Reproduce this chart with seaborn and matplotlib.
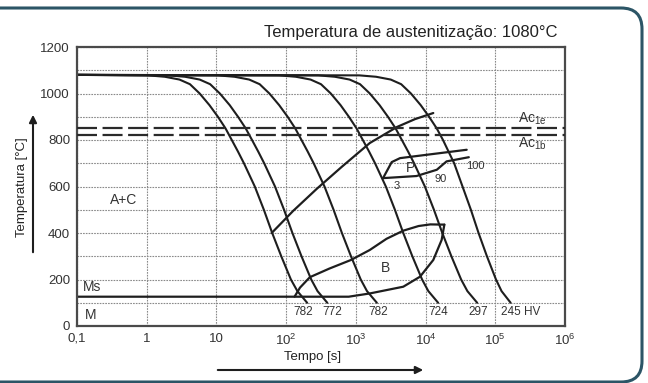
import numpy as np
import pandas as pd
import matplotlib
matplotlib.use("Agg")
import matplotlib.pyplot as plt
import seaborn as sns
from matplotlib.patches import FancyBboxPatch, FancyArrowPatch
from matplotlib.transforms import IdentityTransform
from matplotlib.ticker import FixedLocator, NullLocator, MultipleLocator

# ---------------- data ----------------
cool_temps = [1080, 1078, 1072, 1060, 1040, 1000, 950, 900, 850, 800,
              750, 700, 600, 500, 400, 300, 200, 150, 100]
curve_782a = [0.1, 1.05, 1.82, 2.95, 4.17, 5.75, 7.94, 10.5, 13.5, 16.6,
              20.4, 24.8, 35.5, 47.9, 63.1, 85.1, 117, 145, 200]
curve_772 = [0.1, 2.04, 3.55, 5.75, 8.13, 11.2, 15.5, 20.4, 26.3, 32.4,
             39.8, 48.4, 69.2, 93.3, 123, 166, 229, 282, 389]
curve_782b = [0.1, 10.5, 18.2, 29.5, 41.7, 57.5, 79.4, 105, 135, 166,
              204, 248, 355, 479, 631, 851, 1175, 1445, 2000]
curve_724 = [0.1, 79.4, 138, 224, 316, 437, 603, 794, 1023, 1259,
             1549, 1884, 2692, 3631, 4786, 6457, 8913, 10965, 15136]
curve_297 = [0.1, 288, 501, 813, 1148, 1585, 2188, 2884, 3715, 4571,
             5623, 6839, 9772, 13183, 17378, 23442, 32359, 39811, 54954]
curve_245 = [0.1, 1122, 1950, 3162, 4467, 6166, 8511, 11220, 14454, 17783,
             21380, 25704, 33884, 44668, 57544, 75858, 102329, 123027, 165959]
hardness_labels = ["782", "772", "782", "724", "297", "245 HV"]

# transformation start line (ferrite/pearlite + bainite start)
start_t = [62, 126, 275, 630, 1585, 3890, 7080, 12900]
start_T = [400, 495, 590, 685, 787, 856, 890, 916]

# pearlite region lines (3 % and 90/100 %)
p_upper_t = [2455, 3270, 4300, 38900]
p_upper_T = [636, 705, 722, 758]
p_lower_t = [2455, 7400, 14500, 20000, 41700]
p_lower_T = [636, 645, 672, 708, 726]

# bainite region (upper = start, lower = end) and Ms line
b_upper_t = [132, 158, 219, 417, 851, 1585, 2750, 4790, 7940, 11700, 18600]
b_upper_T = [126, 165, 210, 247, 284, 327, 375, 410, 430, 437, 436]
b_lower_t = [18600, 17000, 12900, 8320, 4790, 1585, 790, 0.1]
b_lower_T = [436, 370, 284, 212, 169, 140, 126, 126]

ac1e, ac1b = 850, 820

# ---------------- styling ----------------
sns.set_theme(style="white")
plt.rcParams['font.family'] = ['Liberation Sans', 'DejaVu Sans']
plt.rcParams['mathtext.fontset'] = 'custom'
plt.rcParams['mathtext.rm'] = 'Liberation Sans'
plt.rcParams['mathtext.it'] = 'Liberation Sans'

W, H = 648, 383
fig = plt.figure(figsize=(W / 100, H / 100), dpi=100)
fig.patch.set_facecolor('white')
ax = fig.add_axes([77 / W, 1 - 326 / H, (565 - 77) / W, (326 - 47) / H])

ink = '#1e1e1e'

curves = [curve_782a, curve_772, curve_782b, curve_724, curve_297, curve_245]
rows = []
for i, ts in enumerate(curves):
    for t, T in zip(ts, cool_temps):
        rows.append({'curve': i, 't': t, 'T': T})
df = pd.DataFrame(rows)
sns.lineplot(data=df, x='t', y='T', units='curve', estimator=None, sort=False,
             color=ink, lw=1.5, ax=ax, legend=False)

line_df = lambda ts, Ts: pd.DataFrame({'t': ts, 'T': Ts})
for ts, Ts in [(start_t, start_T), (p_upper_t, p_upper_T), (p_lower_t, p_lower_T),
               (b_upper_t, b_upper_T), (b_lower_t, b_lower_T)]:
    sns.lineplot(data=line_df(ts, Ts), x='t', y='T', estimator=None, sort=False,
                 color=ink, lw=1.6, ax=ax)

ax.axhline(ac1e, color='#2a2a2a', lw=1.6, ls=(0, (9, 2.5)), zorder=3)
ax.axhline(ac1b, color='#2a2a2a', lw=1.6, ls=(0, (9, 2.5)), zorder=3)

ax.set_xscale('log')
ax.set_xlim(0.1, 1e6)
ax.set_ylim(0, 1200)
ax.xaxis.set_major_locator(FixedLocator([0.1, 1, 10, 100, 1e3, 1e4, 1e5, 1e6]))
ax.xaxis.set_minor_locator(NullLocator())
ax.set_xticklabels(['0,1', '1', '10', r'10$^{2}$', r'10$^{3}$', r'10$^{4}$',
                    r'10$^{5}$', r'10$^{6}$'])
ax.yaxis.set_major_locator(MultipleLocator(200))
ax.yaxis.set_minor_locator(MultipleLocator(100))
ax.grid(which='both', color='#8a8a8a', lw=0.8, ls=(0, (1.5, 1)))
ax.tick_params(which='both', length=0, labelsize=9.5, colors='#333333', pad=5)
ax.set_xlabel('')
ax.set_ylabel('')
for s in ax.spines.values():
    s.set_color('#4a4a4a')
    s.set_linewidth(1.6)

# hardness labels
lab_x = [174, 457, 2090, 15100, 56200, 229000]
for x, s in zip(lab_x, hardness_labels):
    ax.text(x, 60, s, ha='center', va='center', fontsize=8.5, color='#333333')

ax.text(0.46, 542, 'A+C', ha='center', va='center', fontsize=10, color='#333333')
ax.text(0.164, 168, 'Ms', ha='center', va='center', fontsize=10, color='#333333')
ax.text(0.159, 47, 'M', ha='center', va='center', fontsize=10, color='#333333')
ax.text(2630, 249, 'B', ha='center', va='center', fontsize=10, color='#333333')
ax.text(6030, 678, 'P', ha='center', va='center', fontsize=10, color='#333333')
ax.text(3800, 602, '3', ha='center', va='center', fontsize=8, color='#333333')
ax.text(16600, 632, '90', ha='center', va='center', fontsize=8, color='#333333')
ax.text(52500, 688, '100', ha='center', va='center', fontsize=8, color='#333333')
ax.text(2.1e5, 890, r'Ac$_{\mathrm{1e}}$', ha='left', va='center', fontsize=10, color='#333333')
ax.text(2.1e5, 783, r'Ac$_{\mathrm{1b}}$', ha='left', va='center', fontsize=10, color='#333333')

# titles / labels
fig.text(558 / W, 1 - 33 / H, 'Temperatura de austenitização: 1080°C', ha='right',
         va='center', fontsize=12, color='#222222')
fig.text(22 / W, 1 - 187 / H, 'Temperatura [°C]', rotation=90, ha='center',
         va='center', fontsize=9.5, color='#222222')
fig.text(313 / W, 1 - 357 / H, 'Tempo [s]', ha='center', va='center',
         fontsize=9.5, color='#222222')

idt = IdentityTransform()
fig.add_artist(FancyArrowPatch((33, H - 255), (33, H - 112), transform=idt,
                               arrowstyle='-|>', mutation_scale=11, lw=1.5,
                               color='#1e1e1e'))
fig.add_artist(FancyArrowPatch((215, H - 370), (426, H - 370), transform=idt,
                               arrowstyle='-|>', mutation_scale=11, lw=1.5,
                               color='#1e1e1e'))

# rounded frame
frame = FancyBboxPatch((-60, 1), 702, H - 9, boxstyle='round,pad=0,rounding_size=21',
                       transform=idt, fill=False, ec='#2c5566', lw=2.2)
fig.add_artist(frame)

fig.savefig('out.png', dpi=100)
